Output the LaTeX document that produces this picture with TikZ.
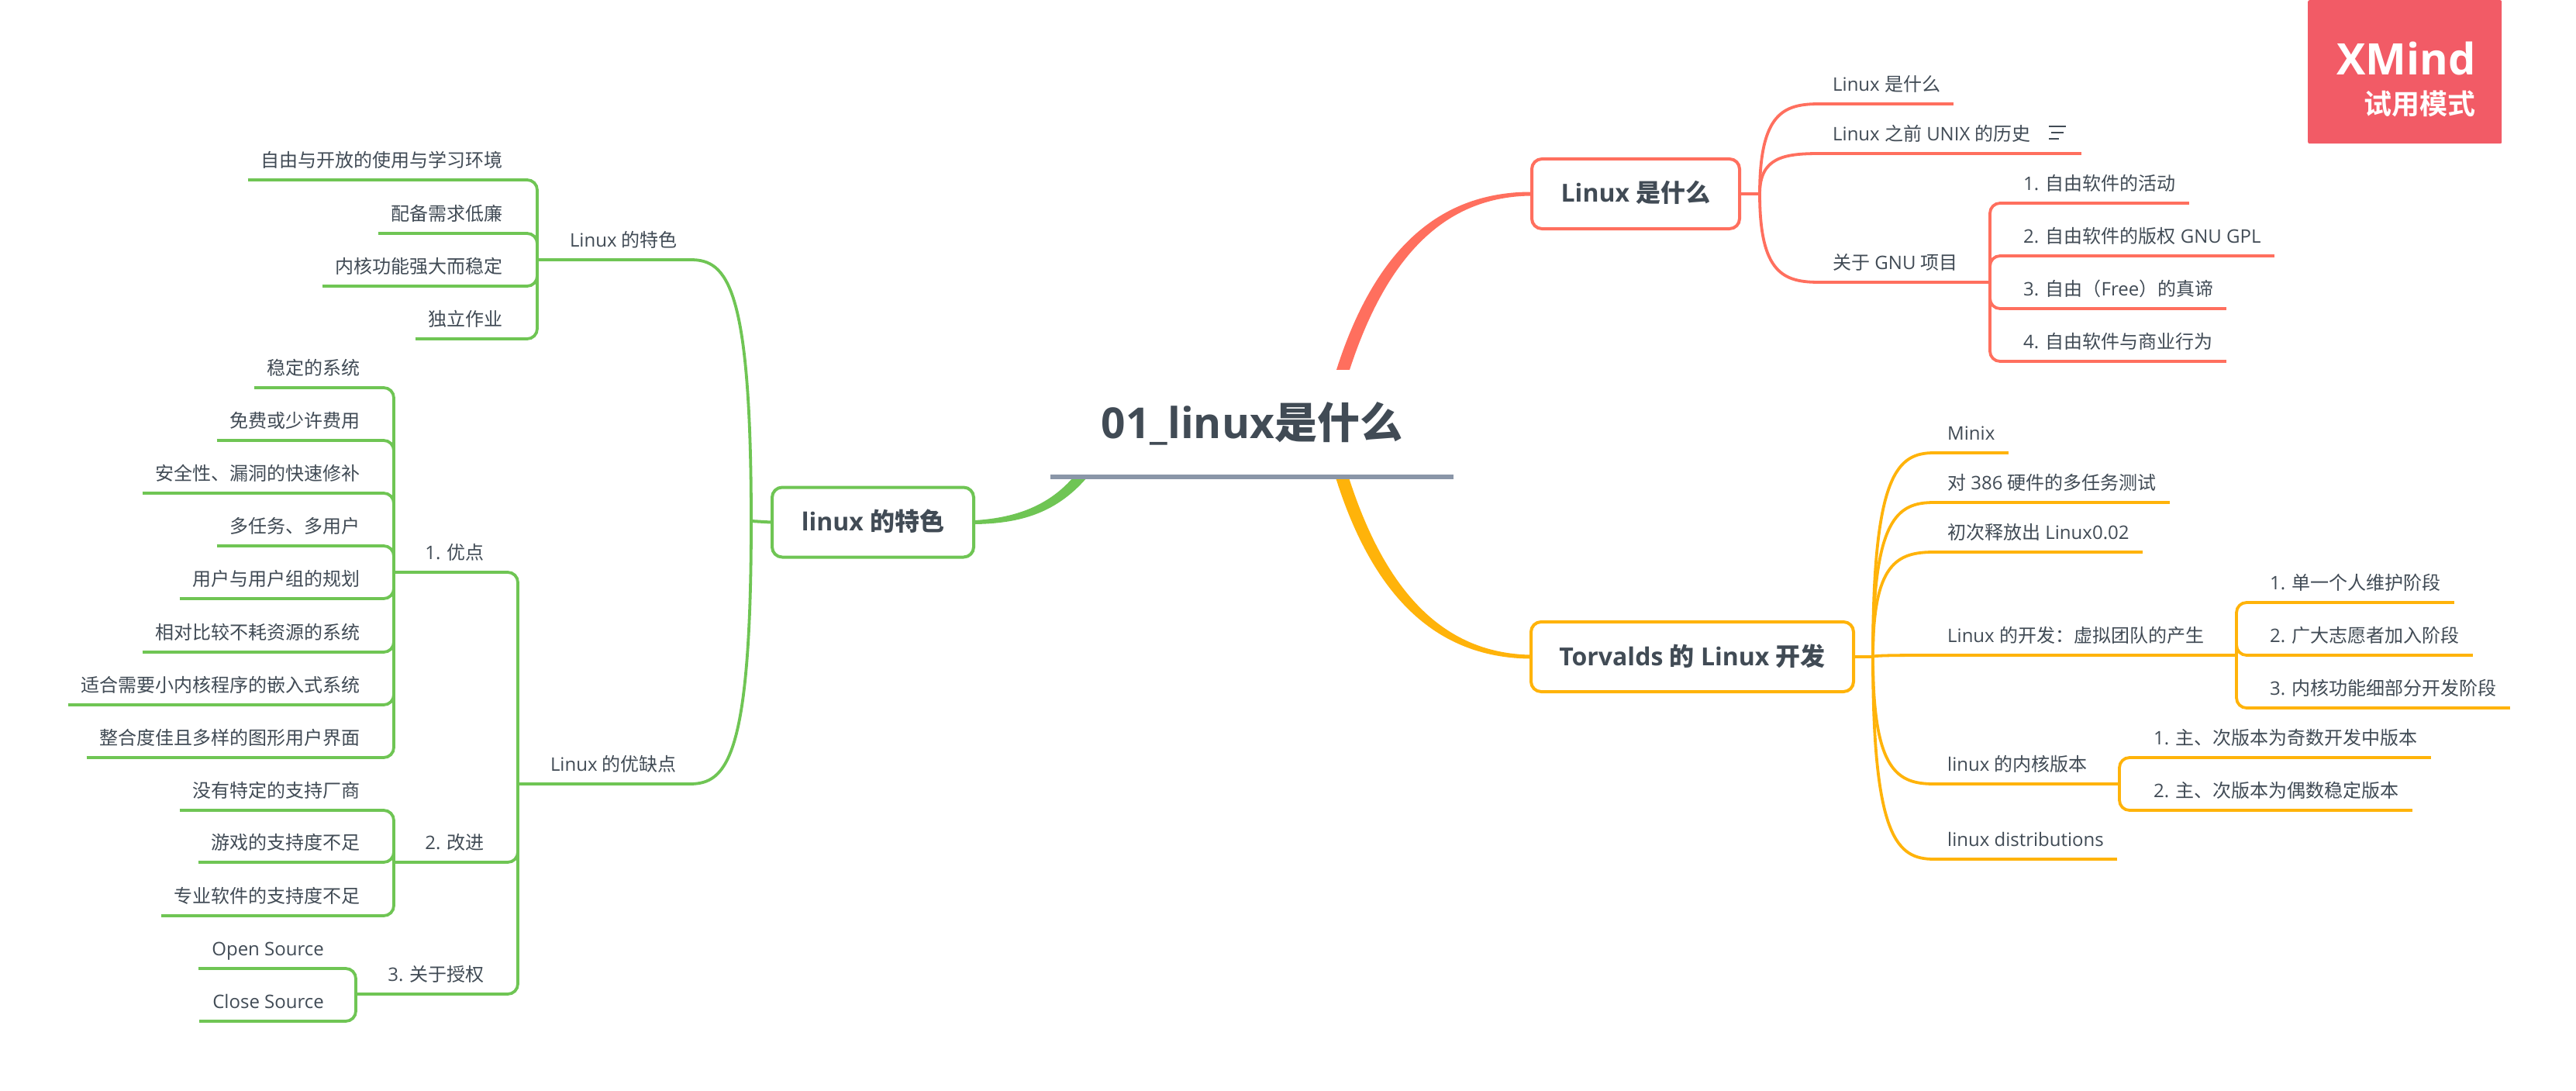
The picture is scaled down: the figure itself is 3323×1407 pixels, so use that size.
\documentclass[tikz,border=0pt]{standalone}
\usepackage{fontspec}
\usetikzlibrary{calc}
\setmainfont{Open Sans}
\newfontfamily\cjk{Noto Sans CJK SC}
\newfontfamily\cjkb{Noto Sans CJK SC Bold}
\newcommand\osb{\bfseries}
\newcommand\zh[1]{{\cjk #1}}
\newcommand\zb[1]{{\cjkb #1}}
\definecolor{cred}{HTML}{FF6F5E}
\definecolor{cyel}{HTML}{FFB30A}
\definecolor{cgrn}{HTML}{6FC554}
\definecolor{ctxt}{HTML}{414B55}
\definecolor{cbar}{HTML}{8A96A8}
\definecolor{cbadge}{HTML}{F25B66}
\tikzset{
  leafbase/.style={inner xsep=17pt,inner ysep=0pt,text height=20pt,text depth=16pt,text=ctxt,font=\fontsize{24}{28}\selectfont},
  rleaf/.style={leafbase,anchor=south west},
  lleaf/.style={leafbase,anchor=south east},
  mainbox/.style={draw=#1,line width=4pt,rounded corners=13pt,fill=white,inner sep=0pt,text height=56pt,text depth=34pt,text=ctxt,font=\fontsize{32}{38}\selectfont\osb},
  uline/.style={draw=#1,line width=4pt},
  curveline/.style={draw=#1,line width=3.8pt},
  elbow/.style={draw=#1,line width=3.8pt,rounded corners=13pt},
}
\newcommand\branch[3]{\draw[curveline=#1] (#2) .. controls ($(#2)!0.9!(#2 |- #3)$) and ($(#2 |- #3)!0.4!(#3)$) .. (#3);}
\begin{document}
\begin{tikzpicture}[x=1pt,y=-1pt]
\useasboundingbox (0,0) rectangle (3323,1407);
\fill[white] (0,0) rectangle (3323,1407);

% main boxes
\node[mainbox=cred,minimum width=268pt] (bR) at (2110,250) {Linux \zb{是什么}};
\node[mainbox=cyel,minimum width=416pt] (bY) at (2183,847) {Torvalds \zb{的} Linux \zb{开发}};
\node[mainbox=cgrn,minimum width=260pt] (bG) at (1126,673.5) {linux \zb{的特色}};

% title placeholder coordinates
\coordinate (tc) at (1615,546);

% tapered main connectors
\fill[cred] ($(tc)+(108,-66)$) .. controls (1778,305) and (1870,248) .. ($(bR.west)+(0,-2.5)$) -- ($(bR.west)+(0,2.5)$) .. controls (1875,254) and (1793,315) .. ($(tc)+(125,-66)$) -- cycle;
\fill[cyel] ($(tc)+(108,70)$) .. controls (1778,791) and (1870,848) .. ($(bY.west)+(0,2.5)$) -- ($(bY.west)+(0,-2.5)$) .. controls (1875,842) and (1793,781) .. ($(tc)+(125,70)$) -- cycle;
\fill[cgrn] ($(tc)+(-231,70)$) .. controls (1350,655) and (1305,668) .. ($(bG.east)+(0,-2.5)$) -- ($(bG.east)+(0,2.5)$) .. controls (1310,675) and (1360,665) .. ($(tc)+(-213,70)$) -- cycle;

% title
\node[fill=white,inner sep=0pt,minimum width=519pt,text height=88pt,text depth=50pt,text=ctxt,font=\fontsize{55}{60}\selectfont\osb] (title) at (1615,546) {01\_linux\zb{是什么}};
\draw[cbar,line width=6pt] (title.south west) -- (title.south east);

% badge
\node[fill=cbadge,inner sep=0pt,minimum width=250pt,minimum height=185pt,anchor=north west,rounded corners=2pt] (badge) at (2977,0) {};
\node[anchor=base east,inner sep=0pt,text=white,font=\fontsize{56}{60}\selectfont\osb] (xm) at (3194,97) {XMind};
\node[anchor=base east,inner sep=0pt,text=white,font=\fontsize{36}{40}\selectfont] (xt) at (3194,148) {\zb{试用模式}};

% ---- red tree
\node[rleaf] (r1) at (2347,134) {Linux \zh{是什么}};
\node[rleaf] (r2) at (2347,198) {Linux \zh{之前} UNIX \zh{的历史}};
\node[rleaf] (r3) at (2347,364) {\zh{关于} GNU \zh{项目}};
\node[rleaf] (r31) at (2593,262) {1. \zh{自由软件的活动}};
\node[rleaf] (r32) at (2593,330) {2. \zh{自由软件的版权} GNU GPL};
\node[rleaf] (r33) at (2593,398) {3. \zh{自由（}Free\zh{）的真谛}};
\node[rleaf] (r34) at (2593,466) {4. \zh{自由软件与商业行为}};
\coordinate (jr) at (2270,250);
\coordinate (jr3) at (2567,364);
\draw[uline=cred] (bR.east) -- (jr);
\foreach \n in {r1,r3} {\branch{cred}{jr}{\n.south west}}
\branch{cred}{jr}{r2.south west}
\draw[uline=cred] (r1.south west) -- (r1.south east);
\draw[uline=cred] (r2.south west) -- ($(r2.south east)+(48,0)$);
\draw[uline=cred] (r3.south west) -- (jr3);
\foreach \n in {r31,r32,r33,r34} {
  \draw[uline=cred] (\n.south west) -- (\n.south east);
  \draw[elbow=cred] (jr3) -- (jr3 |- \n.south west) -- (\n.south west);
}
% notes icon
\coordinate (ni) at ($(r2.south east)+(6,-35)$);
\draw[ctxt,line width=1.8pt] (ni) -- ++(22,0) ($(ni)+(3,8)$) -- ++(16,0) ($(ni)+(0,16)$) -- ++(13,0);

% ---- yellow tree
\node[rleaf] (y1) at (2495,584) {Minix};
\node[rleaf] (y2) at (2495,648) {\zh{对} 386 \zh{硬件的多任务测试}};
\node[rleaf] (y3) at (2495,712) {\zh{初次释放出} Linux0.02};
\node[rleaf] (y4) at (2495,845) {Linux \zh{的开发：虚拟团队的产生}};
\node[rleaf] (y5) at (2495,1011) {linux \zh{的内核版本}};
\node[rleaf] (y6) at (2495,1108) {linux distributions};
\node[rleaf] (y41) at (2911,777) {1. \zh{单一个人维护阶段}};
\node[rleaf] (y42) at (2911,845) {2. \zh{广大志愿者加入阶段}};
\node[rleaf] (y43) at (2911,913) {3. \zh{内核功能细部分开发阶段}};
\node[rleaf] (y51) at (2761,977) {1. \zh{主、次版本为奇数开发中版本}};
\node[rleaf] (y52) at (2761,1045) {2. \zh{主、次版本为偶数稳定版本}};
\coordinate (jy) at (2416,847);
\coordinate (jy4) at (2885,845);
\coordinate (jy5) at (2734,1011);
\draw[uline=cyel] (bY.east) -- (jy);
\foreach \n in {y1,y2,y3,y4,y5,y6} {\branch{cyel}{jy}{\n.south west}}
\foreach \n in {y1,y2,y3,y6} {\draw[uline=cyel] (\n.south west) -- (\n.south east);}
\draw[uline=cyel] (y4.south west) -- (jy4);
\draw[uline=cyel] (y5.south west) -- (jy5);
\foreach \n in {y41,y42,y43} {
  \draw[uline=cyel] (\n.south west) -- (\n.south east);
  \draw[elbow=cyel] (jy4) -- (jy4 |- \n.south west) -- (\n.south west);
}
\foreach \n in {y51,y52} {
  \draw[uline=cyel] (\n.south west) -- (\n.south east);
  \draw[elbow=cyel] (jy5) -- (jy5 |- \n.south west) -- (\n.south west);
}

% ---- green tree
\node[lleaf] (g1) at (891,335) {Linux \zh{的特色}};
\node[lleaf] (g2) at (890,1011) {Linux \zh{的优缺点}};
\coordinate (jg) at (969,672);
\coordinate (jg1) at (693,335);
\coordinate (jg2) at (668,1011);
\draw[uline=cgrn] (bG.west) -- (jg);
\foreach \n in {g1,g2} {\branch{cgrn}{jg}{\n.south east}}
\draw[uline=cgrn] (g1.south east) -- (jg1);
\draw[uline=cgrn] (g2.south east) -- (jg2);

\node[lleaf] (a1) at (666,232) {\zh{自由与开放的使用与学习环境}};
\node[lleaf] (a2) at (666,301) {\zh{配备需求低廉}};
\node[lleaf] (a3) at (666,369) {\zh{内核功能强大而稳定}};
\node[lleaf] (a4) at (666,437) {\zh{独立作业}};
\foreach \n in {a1,a2,a3,a4} {
  \draw[uline=cgrn] (\n.south west) -- (\n.south east);
  \draw[elbow=cgrn] (jg1) -- (jg1 |- \n.south east) -- (\n.south east);
}

\node[lleaf] (b) at (642,738) {1. \zh{优点}};
\node[lleaf] (c) at (642,1112) {2. \zh{改进}};
\node[lleaf] (d) at (642,1282) {3. \zh{关于授权}};
\coordinate (jb) at (508,738);
\coordinate (jc) at (508,1112);
\coordinate (jd) at (459,1282);
\foreach \n/\j in {b/jb,c/jc,d/jd} {
  \draw[uline=cgrn] (\n.south east) -- (\j);
  \draw[elbow=cgrn] (jg2) -- (jg2 |- \n.south east) -- (\n.south east);
}

\node[lleaf] (b1) at (482,500) {\zh{稳定的系统}};
\node[lleaf] (b2) at (482,568) {\zh{免费或少许费用}};
\node[lleaf] (b3) at (482,636) {\zh{安全性、漏洞的快速修补}};
\node[lleaf] (b4) at (482,704) {\zh{多任务、多用户}};
\node[lleaf] (b5) at (482,772) {\zh{用户与用户组的规划}};
\node[lleaf] (b6) at (482,841) {\zh{相对比较不耗资源的系统}};
\node[lleaf] (b7) at (482,909) {\zh{适合需要小内核程序的嵌入式系统}};
\node[lleaf] (b8) at (482,977) {\zh{整合度佳且多样的图形用户界面}};
\foreach \n in {b1,b2,b3,b4,b5,b6,b7,b8} {
  \draw[uline=cgrn] (\n.south west) -- (\n.south east);
  \draw[elbow=cgrn] (jb) -- (jb |- \n.south east) -- (\n.south east);
}
\node[lleaf] (c1) at (482,1045) {\zh{没有特定的支持厂商}};
\node[lleaf] (c2) at (482,1112) {\zh{游戏的支持度不足}};
\node[lleaf] (c3) at (482,1181) {\zh{专业软件的支持度不足}};
\foreach \n in {c1,c2,c3} {
  \draw[uline=cgrn] (\n.south west) -- (\n.south east);
  \draw[elbow=cgrn] (jc) -- (jc |- \n.south east) -- (\n.south east);
}
\node[lleaf] (d1) at (435,1249) {Open Source};
\node[lleaf] (d2) at (435,1317) {Close Source};
\foreach \n in {d1,d2} {
  \draw[uline=cgrn] (\n.south west) -- (\n.south east);
  \draw[elbow=cgrn] (jd) -- (jd |- \n.south east) -- (\n.south east);
}
\end{tikzpicture}
\end{document}
